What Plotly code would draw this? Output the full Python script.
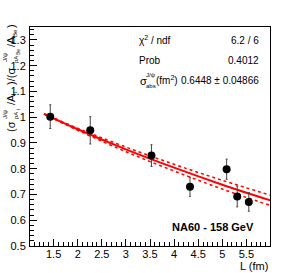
import plotly.graph_objects as go

# data points
L_vals = [1.43, 2.26, 3.53, 4.33, 5.09, 5.31, 5.55]
ratio = [1.002, 0.949, 0.851, 0.730, 0.798, 0.692, 0.671]
ratio_err = [0.046, 0.053, 0.042, 0.037, 0.039, 0.040, 0.036]

# fit curve
L_fit = [1.3, 2.0, 3.0, 4.0, 5.0, 6.0]
fit_c = [1.013, 0.953, 0.875, 0.804, 0.738, 0.677]
fit_hi = [1.014, 0.957, 0.884, 0.817, 0.755, 0.697]
fit_lo = [1.012, 0.949, 0.866, 0.791, 0.721, 0.657]

FONT = "Liberation Sans, Arial"

fig = go.Figure()
fig.add_trace(go.Scatter(x=L_fit, y=fit_hi, mode="lines", line=dict(color="red", width=1.5, dash="dot", shape="spline"), hoverinfo="skip"))
fig.add_trace(go.Scatter(x=L_fit, y=fit_lo, mode="lines", line=dict(color="red", width=1.5, dash="dot", shape="spline"), hoverinfo="skip"))
fig.add_trace(go.Scatter(x=L_fit, y=fit_c, mode="lines", line=dict(color="red", width=2, shape="spline"), hoverinfo="skip"))
fig.add_trace(go.Scatter(x=L_vals, y=ratio, mode="markers",
                         marker=dict(color="black", size=8),
                         error_y=dict(type="data", array=ratio_err, color="#444", thickness=1, width=1)))

fig.update_layout(
    width=300, height=273,
    margin=dict(l=30, r=30, t=27, b=27),
    paper_bgcolor="white", plot_bgcolor="white",
    showlegend=False,
    font=dict(family=FONT, size=11, color="black"),
)
fig.update_xaxes(range=[1.01, 5.99], tickmode="linear", tick0=0.5, dtick=0.5,
                 ticks="inside", ticklen=7, tickcolor="black",
                 minor=dict(tick0=0, dtick=0.1, ticks="inside", ticklen=4, tickcolor="black"),
                 showline=True, linecolor="black", linewidth=1, mirror=True,
                 showgrid=False, zeroline=False, tickfont=dict(size=11), ticklabelstandoff=-2)
fig.update_yaxes(range=[0.5, 1.35], tickmode="linear", tick0=0.5, dtick=0.1,
                 ticks="inside", ticklen=7, tickcolor="black",
                 minor=dict(tick0=0.5, dtick=0.02, ticks="inside", ticklen=4, tickcolor="black"),
                 showline=True, linecolor="black", linewidth=1, mirror=True,
                 showgrid=False, zeroline=False, tickfont=dict(size=11), ticklabelstandoff=1)

def px(x):
    return (x - 30) / 240.0
def py(y):
    return (246 - y) / 219.0

ann = []
def add(text, x, y, size=10, xa="center", ya="middle", angle=0, family=None):
    f = dict(size=size)
    if family:
        f["family"] = family
    ann.append(dict(text=text, x=px(x), y=py(y), xref="paper", yref="paper",
                    xanchor=xa, yanchor=ya, textangle=angle, showarrow=False, font=f))

# rotated y-axis title, built in pieces so super/subscripts stack
R = -90
MX, SUPX, SUBX, SSX = 11, 5, 16, 18
add("(σ", MX, 127, 11, angle=R)
add("J/ψ", SUPX, 115, 6, angle=R)
add("pA", SUBX, 116, 6, angle=R)
add("i", SSX, 110, 5, angle=R)
add("/A", MX, 100, 11, angle=R)
add("i", SUBX - 1, 93, 6, angle=R)
add(")/(σ", MX, 77, 11, angle=R)
add("J/ψ", SUPX, 58, 6, angle=R)
add("pA", SUBX, 60, 6, angle=R)
add("Be", SSX, 52, 5, angle=R)
add("/A", MX, 42, 11, angle=R)
add("Be", SUBX - 1, 33, 6, angle=R)
add(")", MX, 26, 11, angle=R)

# stats box
add("χ<sup>2</sup> / ndf", 137, 40, 10, xa="left")
add("6.2 / 6", 261, 40, 10, xa="right")
add("Prob", 137, 60, 10, xa="left")
add("0.4012", 261, 60, 10, xa="right")
add("σ", 138, 81, 11, xa="left")
add("J/ψ", 144, 75, 6, xa="left")
add("abs", 144, 86, 6, xa="left")
add("(fm<sup>2</sup>)", 154, 80, 10, xa="left")
add("0.6448 ± 0.04866", 261, 80, 10, xa="right")

add("<b>NA60 - 158 GeV</b>", 213, 227, 11)
add("L (fm)", 270, 266, 11, xa="right")
fig.update_layout(annotations=ann)

fig.write_html("out.html", config={"displayModeBar": False},
               post_script="document.body.style.margin='0';")
